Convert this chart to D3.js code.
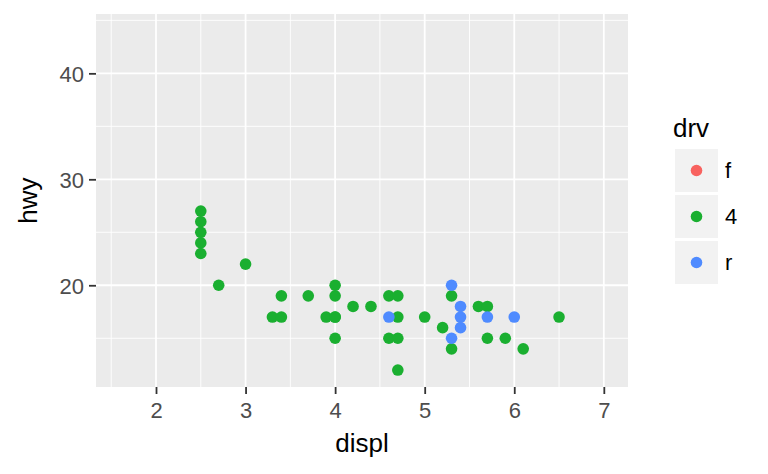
<!DOCTYPE html>
<html>
<head>
<meta charset="utf-8">
<script src="https://cdn.jsdelivr.net/npm/d3@7"></script>
<style>
  body { margin: 0; background: #fff; }
  text { font-family: "Liberation Sans", Arial, sans-serif; }
</style>
</head>
<body>
<svg id="chart" width="768" height="474"></svg>
<script>
// drv levels and colours (as they show in the picture)
const drvLevels = ['f', '4', 'r'];
const drvColors = ['#F8625F', '#1AAF30', '#4F8BFF'];

// points (no "f" points are drawn)
const displ4 = [2.5, 2.5, 2.5, 2.5, 2.5, 2.7, 3.0, 3.3, 3.4, 3.4, 3.7, 3.9, 4.0, 4.0, 4.0, 4.0, 4.0, 4.2, 4.4, 4.6, 4.6, 4.7, 4.7, 4.7, 4.7, 5.0, 5.2, 5.3, 5.3, 5.6, 5.7, 5.7, 5.9, 6.1, 6.5];
const hwy4   = [27, 26, 25, 24, 23, 20, 22, 17, 17, 19, 19, 17, 20, 19, 17, 15, 17, 18, 18, 19, 15, 19, 17, 15, 12, 17, 16, 19, 14, 18, 18, 15, 15, 14, 17];
const displR = [4.6, 5.3, 5.3, 5.4, 5.4, 5.4, 5.7, 6.0];
const hwyR   = [17, 20, 15, 18, 17, 16, 17, 17];

const xTicks = [2, 3, 4, 5, 6, 7];
const xMinor = [1.5, 2.5, 3.5, 4.5, 5.5, 6.5];
const yTicks = [20, 30, 40];
const yMinor = [15, 25, 35, 45];
const xDomain = [1.6, 7.0];
const yDomain = [12, 44];

const points = [];
displ4.forEach((d, i) => points.push({ x: d, y: hwy4[i], drv: '4' }));
displR.forEach((d, i) => points.push({ x: d, y: hwyR[i], drv: 'r' }));

const svg = d3.select('#chart');
const panel = { left: 96, right: 628, top: 14, bottom: 387 };

// ggplot style 5% expansion
function expand(dom) {
    const pad = (dom[1] - dom[0]) * 0.05;
    return [dom[0] - pad, dom[1] + pad];
}
const xScale = d3.scaleLinear().domain(expand(xDomain)).range([panel.left, panel.right]);
const yScale = d3.scaleLinear().domain(expand(yDomain)).range([panel.bottom, panel.top]);
const colour = d3.scaleOrdinal().domain(drvLevels).range(drvColors);

// panel background
svg.append('rect')
    .attr('x', panel.left).attr('y', panel.top)
    .attr('width', panel.right - panel.left).attr('height', panel.bottom - panel.top)
    .attr('fill', '#EBEBEB');

const grid = svg.append('g');
// minor grid
grid.selectAll('.xminor').data(xMinor.filter(v => xScale(v) > panel.left)).join('line')
    .attr('x1', d => xScale(d)).attr('x2', d => xScale(d))
    .attr('y1', panel.top).attr('y2', panel.bottom)
    .attr('stroke', '#fff').attr('stroke-width', 0.9);
grid.selectAll('.yminor').data(yMinor.filter(v => yScale(v) > panel.top)).join('line')
    .attr('y1', d => yScale(d)).attr('y2', d => yScale(d))
    .attr('x1', panel.left).attr('x2', panel.right)
    .attr('stroke', '#fff').attr('stroke-width', 0.9);
// major grid
grid.selectAll('.xmajor').data(xTicks).join('line')
    .attr('x1', d => xScale(d)).attr('x2', d => xScale(d))
    .attr('y1', panel.top).attr('y2', panel.bottom)
    .attr('stroke', '#fff').attr('stroke-width', 1.8);
grid.selectAll('.ymajor').data(yTicks).join('line')
    .attr('y1', d => yScale(d)).attr('y2', d => yScale(d))
    .attr('x1', panel.left).attr('x2', panel.right)
    .attr('stroke', '#fff').attr('stroke-width', 1.8);

// axes
const xAxis = d3.axisBottom(xScale).tickValues(xTicks).tickSize(7).tickFormat(d3.format('d'));
const yAxis = d3.axisLeft(yScale).tickValues(yTicks).tickSize(7).tickFormat(d3.format('d'));
const gx = svg.append('g').attr('transform', `translate(0,${panel.bottom})`).call(xAxis);
const gy = svg.append('g').attr('transform', `translate(${panel.left},0)`).call(yAxis);
[gx, gy].forEach(g => {
    g.select('.domain').remove();
    g.selectAll('.tick line').attr('stroke', '#333').attr('stroke-width', 1.8);
    g.selectAll('.tick text').attr('fill', '#4D4D4D').style('font-size', '22px');
});
gx.selectAll('.tick text').attr('y', 31).attr('dy', null);
gy.selectAll('.tick text').attr('x', -12).attr('dy', '0.36em');

// axis titles
svg.append('text').attr('x', (panel.left + panel.right) / 2).attr('y', 452)
    .attr('text-anchor', 'middle').style('font-size', '26px').attr('fill', '#000').text('displ');
svg.append('text').attr('transform', `translate(37,${(panel.top + panel.bottom) / 2}) rotate(-90)`)
    .attr('text-anchor', 'middle').style('font-size', '26px').attr('fill', '#000').text('hwy');

// points
svg.append('g').selectAll('circle').data(points).join('circle')
    .attr('cx', d => xScale(d.x)).attr('cy', d => yScale(d.y))
    .attr('r', 5.8).attr('fill', d => colour(d.drv));

// legend
const legend = svg.append('g').attr('transform', 'translate(675,0)');
legend.append('text').attr('x', -2).attr('y', 137).style('font-size', '26px').attr('fill', '#000').text('drv');
const keys = legend.selectAll('g.key').data(drvLevels).join('g')
    .attr('transform', (d, i) => `translate(0,${149 + i * 46})`);
keys.append('rect').attr('width', 43).attr('height', 43).attr('fill', '#F2F2F2');
keys.append('circle').attr('cx', 21.5).attr('cy', 21.5).attr('r', 5.8).attr('fill', d => colour(d));
keys.append('text').attr('x', 50).attr('y', 21.5).attr('dy', '0.36em')
    .style('font-size', '22px').attr('fill', '#000').text(d => d);
</script>
</body>
</html>
